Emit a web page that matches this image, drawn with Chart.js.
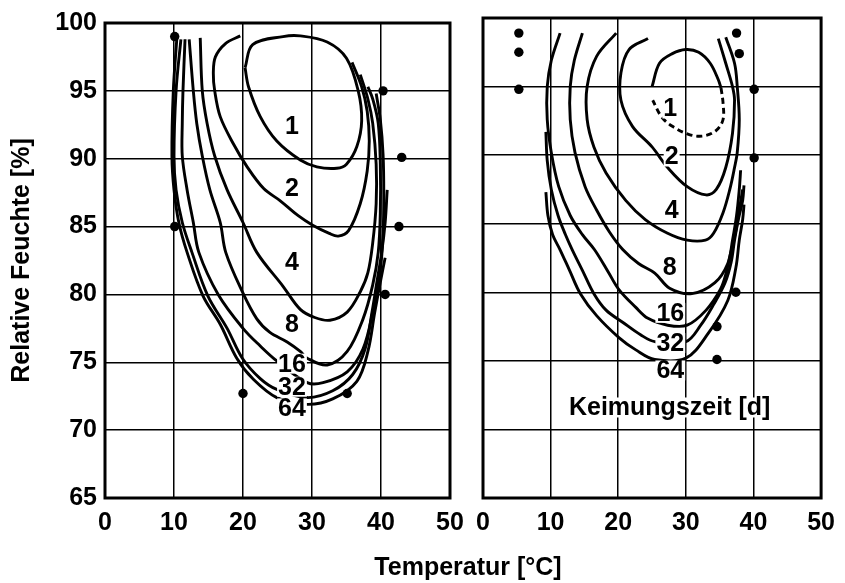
<!DOCTYPE html>
<html>
<head>
<meta charset="utf-8">
<script src="https://cdn.jsdelivr.net/npm/chart.js@4/dist/chart.umd.min.js"></script>
<style>
  html, body { margin: 0; background: #fff; }
  #wrap { position: relative; width: 845px; height: 583px; overflow: hidden; }
  canvas { position: absolute; left: 0; top: 0; }
  #xtitle { position: absolute; left: 318px; width: 300px; top: 552px; text-align: center;
            font: bold 25px "Liberation Sans", Arial, sans-serif; color: #000; }
</style>
</head>
<body>
<div id="wrap">
  <canvas id="left" width="845" height="583"></canvas>
  <canvas id="right" width="845" height="583"></canvas>
  <div id="xtitle">Temperatur [°C]</div>
</div>
<script>
// axis ranges / ticks
const xRange = [0, 50];
const yRange = [65, 100];
const xStep = 10;
const yStep = 5;

// left panel: contour lines of germination time [d], [temperature, rel. humidity]
const leftCurve1 = [[20.3,96.7],[21.4,98.4],[25.8,99.0],[28.3,99.05],[32.2,98.6],[35.0,97.4],[36.7,95.0],[37.2,92.8],[36.5,90.9],[35.0,89.6],[33.6,89.3],[30.7,89.4],[28.3,89.9],[24.9,91.3],[22.5,93.1],[20.8,95.3],[20.3,96.7]];
const leftCurve2 = [[19.6,99.05],[17.5,98.5],[16.0,97.5],[15.7,96.3],[15.9,95.0],[16.7,93.1],[18.6,91.1],[20.6,89.4],[23.0,87.8],[25.4,86.9],[28.0,85.8],[30.1,85.1],[32.5,84.5],[33.8,84.3],[35.3,84.7],[37.0,86.7],[38.0,89.1],[38.3,91.3],[38.0,93.5],[37.2,95.3],[35.8,97.1]];
const leftCurve4 = [[13.8,98.9],[14.1,95.0],[14.8,92.6],[15.9,90.2],[17.7,87.7],[20.0,85.3],[22.0,83.1],[25.8,80.6],[28.3,78.9],[30.4,78.3],[32.6,78.1],[35.1,78.7],[37.0,80.2],[38.1,81.6],[38.8,83.8],[39.3,86.7],[39.3,89.6],[38.8,92.6],[38.1,94.4],[37.0,96.2]];
const leftCurve8 = [[12.2,98.8],[12.8,95.0],[13.3,92.6],[14.1,90.2],[15.2,87.7],[16.7,85.3],[17.5,83.1],[19.9,80.2],[22.0,78.2],[23.9,77.2],[26.4,76.5],[28.3,75.8],[29.3,75.3],[32.2,74.8],[35.1,75.8],[37.4,78.2],[38.8,80.7],[39.6,83.1],[39.9,86.0],[39.9,89.6],[39.6,92.6],[38.8,94.4],[38.1,95.3]];
const leftCurve16 = [[11.6,98.8],[11.3,95.0],[11.2,92.6],[11.2,90.2],[11.9,87.7],[12.8,85.3],[13.6,83.1],[16.4,80.0],[20.0,77.5],[22.5,76.2],[24.9,75.1],[29.3,73.5],[31.6,73.5],[35.1,74.3],[37.4,76.0],[38.8,78.7],[39.9,81.8],[40.3,84.5],[40.4,87.4],[40.3,90.3],[39.9,92.9],[39.3,94.8]];
const leftCurve32 = [[11.0,98.8],[10.3,95.0],[10.0,90.2],[10.3,87.7],[11.2,85.3],[12.6,83.1],[14.9,79.9],[17.7,77.5],[19.9,75.3],[22.5,73.8],[24.9,73.0],[29.3,72.4],[33.0,72.9],[35.9,74.1],[37.7,76.0],[38.7,78.7],[39.4,80.9],[40.1,83.1],[40.6,85.3],[40.9,87.7]];
const leftCurve64 = [[10.4,98.8],[9.9,95.0],[9.7,90.2],[10.0,87.7],[10.7,85.3],[11.9,83.1],[14.2,79.9],[16.7,77.8],[19.1,75.3],[21.4,73.8],[24.9,72.4],[29.3,71.9],[33.0,72.3],[36.5,73.6],[38.1,75.8],[39.1,78.7],[39.9,80.9],[40.6,82.7]];

// left panel: measured points
const leftDotsX = [10.1, 10.1, 40.3, 43.0, 42.6, 40.6, 20.0, 35.1];
const leftDotsY = [99.0, 85.0, 95.0, 90.1, 85.0, 80.0, 72.7, 72.7];

// left panel: curve labels
const leftLabelText = ['1', '2', '4', '8', '16', '32', '64'];
const leftLabelX = [27.1, 27.1, 27.1, 27.1, 27.1, 27.1, 27.1];
const leftLabelY = [92.4, 87.8, 82.4, 77.8, 74.9, 73.2, 71.6];

// right panel: contour lines
const rightCurve1Solid = [[25.0,95.0],[26.1,96.7],[28.0,97.4],[30.0,97.7],[31.9,97.5],[33.6,96.7],[34.8,95.5],[35.2,94.9]];
const rightCurve1Dashed = [[35.2,94.9],[35.5,93.8],[35.5,92.6],[34.5,91.8],[32.6,91.4],[30.5,91.5],[28.0,92.1],[26.4,92.8],[25.1,94.0]];
const rightCurve2 = [[24.4,98.5],[21.6,97.7],[20.4,96.0],[20.4,94.0],[22.1,92.1],[25.0,90.6],[27.3,89.1],[30.2,87.7],[33.0,87.1],[34.5,87.5],[35.9,89.1],[36.9,91.6],[37.2,94.0],[36.9,95.0],[35.9,96.7],[34.8,98.5]];
const rightCurve4 = [[19.7,98.9],[16.8,97.2],[15.4,95.0],[15.4,92.6],[16.4,90.6],[18.2,88.7],[21.1,86.7],[24.0,85.3],[27.3,84.3],[30.2,83.8],[32.9,83.8],[34.1,84.3],[35.5,85.8],[36.5,87.5],[37.2,89.1],[37.6,90.2],[37.9,92.6],[37.6,95.0],[37.2,96.7],[35.9,98.6]];
const rightCurve8 = [[14.7,98.9],[13.5,96.9],[12.9,95.0],[12.9,92.6],[13.6,90.2],[15.1,87.7],[16.8,86.0],[18.7,84.4],[20.7,83.1],[23.0,82.1],[25.4,81.4],[27.6,80.3],[30.9,79.9],[34.3,80.7],[36.2,82.1],[36.9,83.8],[37.5,85.6],[37.9,87.5],[38.1,88.9]];
const rightCurve16 = [[11.4,98.9],[10.1,96.9],[9.5,95.0],[9.5,92.6],[10.1,90.2],[11.2,87.7],[12.9,85.6],[14.7,84.2],[16.5,83.1],[18.5,81.5],[20.1,80.2],[22.6,78.9],[24.4,78.1],[27.3,77.6],[30.2,77.6],[33.0,78.7],[35.1,80.2],[35.9,81.3],[36.6,82.8],[37.4,84.5],[37.9,86.0],[38.4,87.5]];
const rightCurve32 = [[9.3,91.7],[9.5,89.6],[10.1,87.5],[11.1,85.6],[12.2,84.2],[13.2,83.1],[14.7,81.6],[16.4,79.9],[18.2,78.7],[20.7,77.8],[23.3,76.9],[25.4,76.4],[30.0,76.4],[32.2,77.6],[34.1,79.1],[35.8,80.7],[36.7,82.2],[37.2,83.8],[37.8,85.4],[38.4,86.7],[38.6,87.8]];
const rightCurve64 = [[9.3,87.3],[9.6,85.6],[10.3,84.2],[11.4,83.1],[12.8,81.6],[14.4,79.9],[16.8,78.3],[20.1,76.7],[22.6,75.8],[25.4,75.1],[30.0,75.2],[33.3,77.0],[36.2,79.4],[37.4,81.8],[37.9,83.8],[38.4,85.3],[38.6,86.4]];

// right panel: measured points
const rightDotsX = [5.3, 5.3, 5.3, 37.5, 37.9, 40.1, 40.1, 37.4, 34.6, 34.6];
const rightDotsY = [98.9, 97.5, 94.8, 98.9, 97.4, 94.8, 89.8, 80.0, 77.5, 75.1];

// right panel: labels
const rightLabelText = ['1', '2', '4', '8', '16', '32', '64', 'Keimungszeit [d]'];
const rightLabelX = [27.7, 27.9, 27.9, 27.6, 27.7, 27.7, 27.7, 27.6];
const rightLabelY = [93.4, 89.9, 86.0, 81.8, 78.5, 76.3, 74.3, 71.6];

const FONT = '"Liberation Sans", Arial, sans-serif';

const toPts = (arr) => arr.map(([x, y]) => ({ x, y }));

function curve(arr, dashed) {
  return {
    data: toPts(arr),
    showLine: true,
    borderColor: '#000',
    borderWidth: 2.9,
    borderDash: dashed ? [6, 4] : [],
    pointRadius: 0,
    tension: 0.35,
    fill: false
  };
}

function dots(xs, ys) {
  return {
    data: xs.map((x, i) => ({ x, y: ys[i] })),
    showLine: false,
    pointRadius: 4.7,
    pointBackgroundColor: '#000',
    pointBorderWidth: 0
  };
}

// white-boxed text labels on top of the curves
const curveLabels = {
  id: 'curveLabels',
  afterDatasetsDraw(chart, args, opts) {
    const { ctx, scales } = chart;
    ctx.save();
    ctx.font = 'bold 25px ' + FONT;
    ctx.textAlign = 'center';
    ctx.textBaseline = 'middle';
    opts.text.forEach((t, i) => {
      const px = scales.x.getPixelForValue(opts.x[i]);
      const py = scales.y.getPixelForValue(opts.y[i]);
      const w = ctx.measureText(t).width;
      ctx.fillStyle = '#fff';
      ctx.fillRect(px - w / 2 - 1, py - 10, w + 2, 20);
      ctx.fillStyle = '#000';
      ctx.fillText(t, px, py + 1);
    });
    ctx.restore();
  }
};

const frame = {
  id: 'frame',
  afterDraw(chart) {
    const a = chart.chartArea, ctx = chart.ctx;
    ctx.save();
    ctx.lineWidth = 3;
    ctx.strokeStyle = '#000';
    ctx.strokeRect(a.left, a.top, a.right - a.left, a.bottom - a.top);
    ctx.restore();
  }
};

function makeChart(id, datasets, labels, opt) {
  return new Chart(document.getElementById(id), {
    type: 'scatter',
    data: { datasets },
    options: {
      responsive: false,
      animation: false,
      layout: { padding: opt.padding },
      plugins: {
        legend: { display: false },
        tooltip: { enabled: false },
        curveLabels: labels
      },
      scales: {
        x: {
          type: 'linear', min: xRange[0], max: xRange[1],
          grid: { color: '#000', lineWidth: 1.5, drawTicks: false },
          border: { display: false },
          ticks: { stepSize: xStep, padding: 10, color: '#000', font: { family: FONT, size: 25, weight: 'bold' } },
          afterFit(s) { s.height = 85; }
        },
        y: {
          type: 'linear', min: yRange[0], max: yRange[1],
          grid: { color: '#000', lineWidth: 1.5, drawTicks: false },
          border: { display: false },
          ticks: { display: opt.yTicks, stepSize: yStep, padding: 8, color: '#000', font: { family: FONT, size: 25, weight: 'bold' } },
          title: {
            display: opt.yTicks, text: 'Relative Feuchte [%]', color: '#000',
            font: { family: FONT, size: 25, weight: 'bold' }, padding: { top: 7, bottom: 0 }
          },
          afterFit(s) { s.width = opt.yWidth; }
        }
      }
    },
    plugins: [curveLabels, frame]
  });
}

makeChart('left', [
  curve(leftCurve1), curve(leftCurve2), curve(leftCurve4), curve(leftCurve8),
  curve(leftCurve16), curve(leftCurve32), curve(leftCurve64),
  dots(leftDotsX, leftDotsY)
], { text: leftLabelText, x: leftLabelX, y: leftLabelY },
{ padding: { left: 0, top: 18, right: 395, bottom: 0 }, yTicks: true, yWidth: 105 });

makeChart('right', [
  curve(rightCurve1Solid), curve(rightCurve1Dashed, true), curve(rightCurve2), curve(rightCurve4),
  curve(rightCurve8), curve(rightCurve16), curve(rightCurve32), curve(rightCurve64),
  dots(rightDotsX, rightDotsY)
], { text: rightLabelText, x: rightLabelX, y: rightLabelY },
{ padding: { left: 0, top: 18, right: 14, bottom: 0 }, yTicks: false, yWidth: 483 });
</script>
</body>
</html>
